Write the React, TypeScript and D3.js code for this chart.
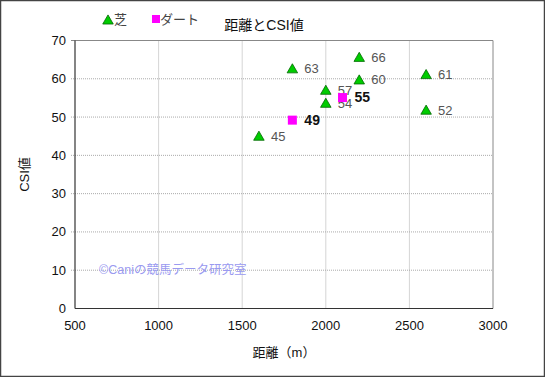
import React from "react";
import * as d3 from "d3";

const turfDist = [1600, 1800, 2000, 2000, 2200, 2200, 2600, 2600];
const turfCsi = [45, 62.6, 57, 53.6, 65.6, 59.7, 61.1, 51.8];
const turfLabels = ["45", "63", "57", "54", "66", "60", "61", "52"];
const dirtDist = [1800, 2100];
const dirtCsi = [49.2, 55.1];
const dirtLabels = ["49", "55"];
const xTicks = [500, 1000, 1500, 2000, 2500, 3000];
const yTicks = [0, 10, 20, 30, 40, 50, 60, 70];

const W = 545, H = 377;
const FONT = "'Liberation Sans', 'Noto Sans CJK JP', sans-serif";

export default function App() {
  const x = d3.scaleLinear().domain([500, 3000]).range([75, 493]);
  const y = d3.scaleLinear().domain([0, 70]).range([308.5, 40.5]);
  const tri = d3.symbol().type(d3.symbolTriangle).size(48)() as string;
  const x0 = x(500), x1 = x(3000), y0 = y(0), y1 = y(70);
  return (
    <svg width={W} height={H} style={{ position: "absolute", left: 0, top: 0, background: "#fff" }} fontFamily={FONT}>
      <rect x={0.5} y={0.5} width={W - 1} height={H - 1} fill="#fff" stroke="#444" strokeWidth={1.5} />
      {/* grid */}
      {xTicks.slice(1, -1).map((t) => (
        <line key={"gx" + t} x1={x(t)} x2={x(t)} y1={y1} y2={y0} stroke="#aaa" strokeDasharray="1,1" />
      ))}
      {yTicks.slice(1, -1).map((t) => (
        <line key={"gy" + t} x1={x0 - 4} x2={x1} y1={y(t)} y2={y(t)} stroke="#aaa" strokeDasharray="1,1" />
      ))}
      {/* frame */}
      <line x1={x0} x2={x1} y1={y1} y2={y1} stroke="#888" />
      <line x1={x1} x2={x1} y1={y1} y2={y0} stroke="#888" />
      <line x1={x0 - 4} x2={x0} y1={y1} y2={y1} stroke="#888" />
      <line x1={x0} x2={x0} y1={y1} y2={y0} stroke="#333" strokeWidth={1.2} />
      <line x1={x0} x2={x1} y1={y0} y2={y0} stroke="#333" strokeWidth={1.2} />
      {/* tick labels */}
      {yTicks.map((t) => (
        <text key={"ty" + t} x={x0 - 9} y={y(t)} dy="0.35em" textAnchor="end" fontSize={13} fill="#111">{t}</text>
      ))}
      {xTicks.map((t) => (
        <text key={"tx" + t} x={x(t)} y={y0 + 21} textAnchor="middle" fontSize={13} fill="#111">{t}</text>
      ))}
      {/* watermark */}
      <text x={99} y={y(10) + 4} fontSize={12.5} fill="#9a9af0">©Caniの競馬データ研究室</text>
      {/* turf */}
      {turfDist.map((d, i) => (
        <g key={"t" + i}>
          <path d={tri} transform={`translate(${x(d)},${y(turfCsi[i]) + 1})`} fill="#00cc00" stroke="#006600" strokeWidth={0.8} />
          <text x={x(d) + 12} y={y(turfCsi[i])} dy="0.35em" fontSize={13} fill="#555">{turfLabels[i]}</text>
        </g>
      ))}
      {/* dirt */}
      {dirtDist.map((d, i) => (
        <g key={"d" + i}>
          <rect x={x(d) - 4.5} y={y(dirtCsi[i]) - 4.5} width={9} height={9} fill="#ff00ff" />
          <text x={x(d) + 12} y={y(dirtCsi[i])} dy="0.35em" fontSize={14} fontWeight="bold" fill="#111">{dirtLabels[i]}</text>
        </g>
      ))}
      {/* title */}
      <text x={264} y={30} textAnchor="middle" fontSize={14} fill="#111">距離とCSI値</text>
      {/* legend */}
      <path d={tri} transform={`translate(108,21)`} fill="#00cc00" stroke="#006600" strokeWidth={0.8} />
      <text x={114} y={24} fontSize={13} fill="#444">芝</text>
      <rect x={152} y={15} width={8} height={8} fill="#ff00ff" />
      <text x={160} y={24} fontSize={13} fill="#444">ダート</text>
      {/* axis titles */}
      <text x={(x0 + x1) / 2} y={357} textAnchor="middle" fontSize={13} fill="#111">距離（m）</text>
      <text transform={`translate(29,${(y0 + y1) / 2}) rotate(-90)`} textAnchor="middle" fontSize={13} fill="#111">CSI値</text>
    </svg>
  );
}
